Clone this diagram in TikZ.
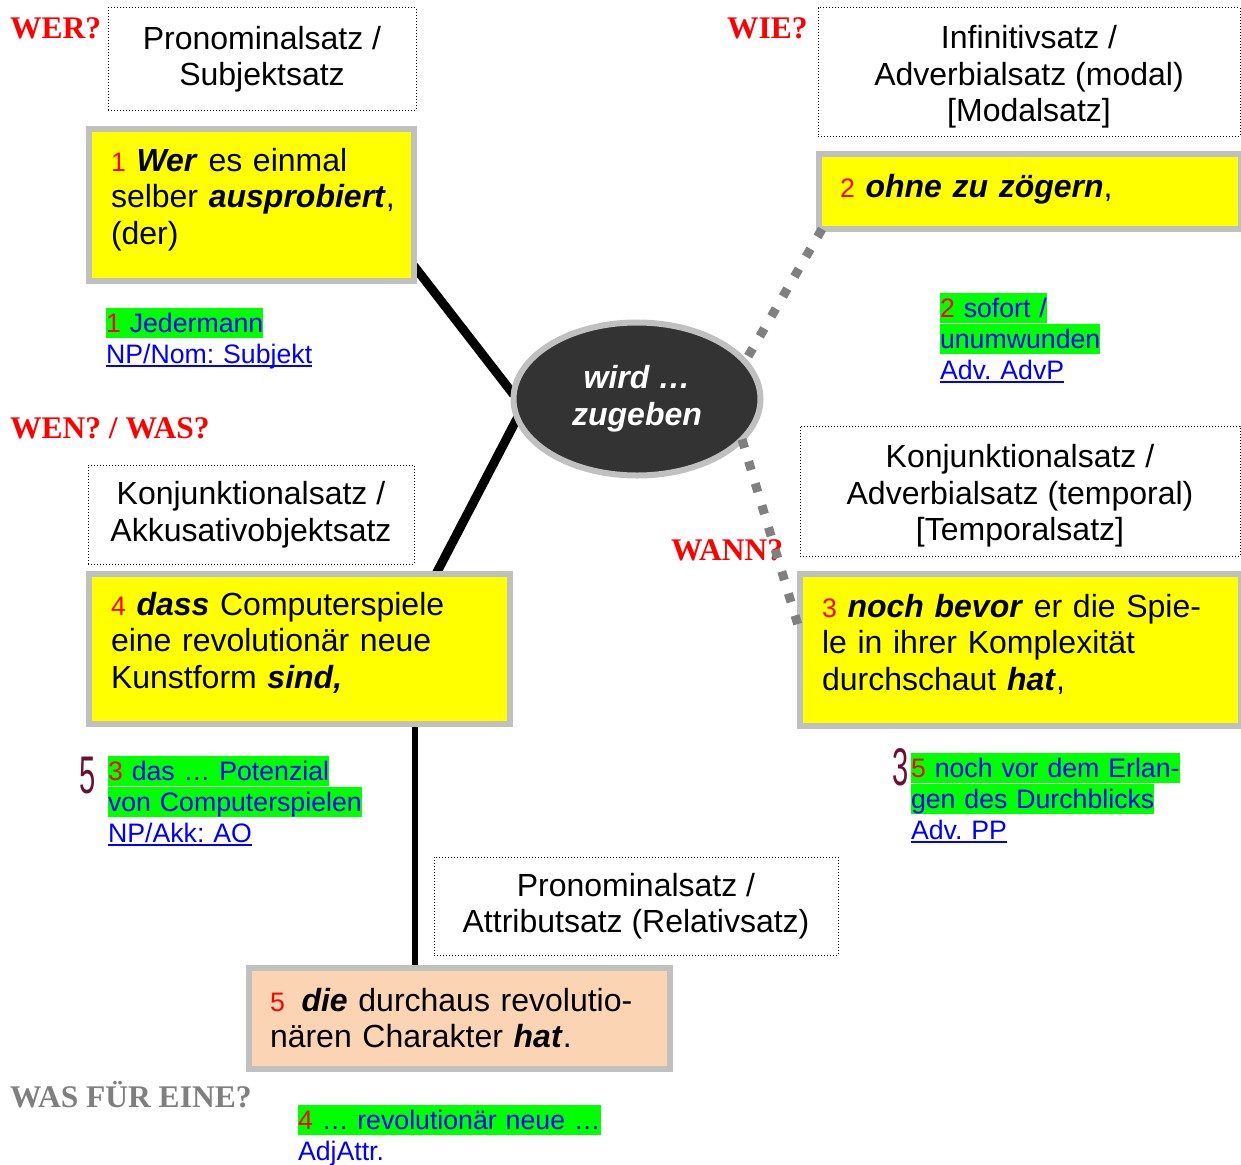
\documentclass[tikz,border=0pt]{standalone}
\usepackage{fontspec}
\setmainfont{Liberation Sans}
\newfontfamily\headfont{Liberation Serif}
\usetikzlibrary{shapes.geometric,calc}
\frenchspacing

\definecolor{boxyellow}{HTML}{FFFF00}
\definecolor{boxgray}{HTML}{C0C0C0}
\definecolor{hlgreen}{HTML}{00FF00}
\definecolor{peach}{HTML}{FBD4B4}
\definecolor{verbfill}{HTML}{333333}
\definecolor{linkgray}{HTML}{808080}
\definecolor{headgray}{HTML}{7F7F7F}
\definecolor{inkmark}{HTML}{6B1035}
\definecolor{labblue}{HTML}{0000FF}
\definecolor{numred}{HTML}{FF0000}

% bold italic key words
\newcommand\bi[1]{\textbf{\textit{#1}}}
% small red clause number
\newcommand\nr[1]{{\color{numred}\fontsize{26.7}{31}\selectfont #1}}
% green text highlight, one line at a time
\newcommand\hl[1]{{\fboxsep=0pt\colorbox{hlgreen}{\rule[-6pt]{0pt}{30pt}#1}}}
% underline at a fixed depth
\newsavebox\ulnbox
\newcommand\uln[1]{\leavevmode\sbox\ulnbox{#1}\rlap{\rule[-4pt]{\wd\ulnbox}{1.8pt}}\usebox\ulnbox}

\pgfdeclarelayer{background}
\pgfsetlayers{background,main}

\begin{document}
\begin{tikzpicture}[x=1pt,y=-1pt,
  every node/.style={inner sep=0pt,outer sep=0pt},
  bodytext/.style={font=\fontsize{32}{36.5}\selectfont},
  labtext/.style={font=\fontsize{26.7}{31}\selectfont, text=labblue,
    anchor=base west, text width=340, align=left},
  cluebox/.style={draw=black, line width=1pt, dash pattern=on 1pt off 2pt,
    bodytext, align=center},
  clausebox/.style={draw=boxgray, line width=6pt, fill=boxyellow},
  relbox/.style={draw=boxgray, line width=6pt, fill=peach},
  clausetext/.style={bodytext, anchor=base west, text width=420, align=left},
  question/.style={font=\headfont\bfseries\fontsize{31.5}{36}\selectfont,
    text=numred, anchor=base west},
  solidlink/.style={line width=9pt, black},
  dotlink/.style={line width=9pt, linkgray, dash pattern=on 9pt off 14pt},
  penmark/.style={font=\fontsize{53}{53}\selectfont, text=inkmark}
]
\useasboundingbox (0,0) rectangle (1241,1164);

% question words
\node[question] (qwer) at (10,39) {WER?};
\node[question] (qwie) at (727,39) {WIE?};
\node[question] (qwen) at (10,438) {WEN? / WAS?};
\node[question] (qwann) at (671,560) {WANN?};
\node[question, text=headgray] (qwas) at (10,1107) {WAS FÜR EINE?};

% clause type boxes
\node[cluebox, minimum width=308, minimum height=102] (c1) at (262,59)
  {Pronominalsatz /\\Subjektsatz};
\node[cluebox, minimum width=326, minimum height=99] (c4) at (251,514.5)
  {Konjunktionalsatz /\\Akkusativobjektsatz};
\node[cluebox, minimum width=404, minimum height=98] (c5) at (636,906)
  {Pronominalsatz /\\Attributsatz (Relativsatz)};
\node[cluebox, minimum width=422, minimum height=128] (c2) at (1029,72) {};
\node[bodytext, align=center] (c2t) at (1029,77)
  {Infinitivsatz /\\Adverbialsatz (modal)\\{[}Modalsatz{]}};
\node[cluebox, minimum width=440, minimum height=130] (c3) at (1020,491) {};
\node[bodytext, align=center] (c3t) at (1020,496)
  {Konjunktionalsatz /\\Adverbialsatz (temporal)\\{[}Temporalsatz{]}};

% central verb
\node[ellipse, draw=boxgray, line width=6pt, fill=verbfill,
  minimum width=247, minimum height=153, text=white, align=center,
  font=\fontsize{32}{37}\selectfont\bfseries\itshape] (verb) at (637,399)
  {wird …\\zugeben};

% clause boxes
\node[clausebox, minimum width=325, minimum height=152] (k1) at (251.5,205) {};
\node[clausebox, minimum width=422, minimum height=75] (k2) at (1030,191.5) {};
\node[clausebox, minimum width=441, minimum height=152] (k3) at (1020.5,650) {};
\node[clausebox, minimum width=421, minimum height=150] (k4) at (299.5,649) {};
\node[relbox, minimum width=421, minimum height=101] (k5) at (459.5,1018.5) {};

\node[clausetext] (t1) at (111,171)
  {\nr{1} \bi{Wer} es einmal\\selber \bi{ausprobiert},\\(der)};
\node[clausetext] (t2) at (840,197) {\nr{2} \bi{ohne zu zögern},};
\node[clausetext] (t3) at (822,617)
  {\nr{3} \bi{noch bevor} er die Spie-\\le in ihrer Komplexität\\durchschaut \bi{hat},};
\node[clausetext] (t4) at (111,615)
  {\nr{4} \bi{dass} Computerspiele\\eine revolutionär neue\\Kunstform \bi{sind,}};
\node[clausetext] (t5) at (270,1011)
  {\nr{5}\hspace{6pt} \bi{die} durchaus revolutio-\\nären Charakter \bi{hat}.};

% phrase equivalents
\node[labtext] (l1) at (106,332) {\hl{\nr{1} Jedermann}\\\uln{NP/Nom: Subjekt}};
\node[labtext] (l2) at (940,317) {\hl{\nr{2} sofort /}\\\hl{unumwunden}\\\uln{Adv. AdvP}};
\node[labtext] (l4) at (108,780) {\hl{\nr{3} das … Potenzial}\\\hl{von Computerspielen}\\\uln{NP/Akk: AO}};
\node[labtext] (l3) at (911,777) {\hl{\nr{5} noch vor dem Erlan-}\\\hl{gen des Durchblicks}\\\uln{Adv. PP}};
\node[labtext] (l5) at (298,1129) {\hl{\nr{4} … revolutionär neue …}\\AdjAttr.};

% handwritten renumbering
\node[penmark] (m5) at (88,776) {\scalebox{0.55}[1]{5}};
\node[penmark] (m3) at (901,767) {\scalebox{0.55}[1]{3}};

% connectors
\begin{pgfonlayer}{background}
  \draw[solidlink] ($(k1.south east)+(0,-15)$) -- (verb.178);
  \draw[solidlink] (verb.189) -- ($(k4.north east)+(-74,0)$);
  \coordinate (drop) at ($(k4.south west)+(326,0)$);
  \draw[solidlink, line width=5.5pt] (drop) -- (drop |- k5.north);
\end{pgfonlayer}
\draw[dotlink] ($(k2.south west)+(3,0)$) -- (verb.19);
\draw[dotlink] (verb.-21) -- ($(k3.west)+(0,-18)$);
\end{tikzpicture}
\end{document}
